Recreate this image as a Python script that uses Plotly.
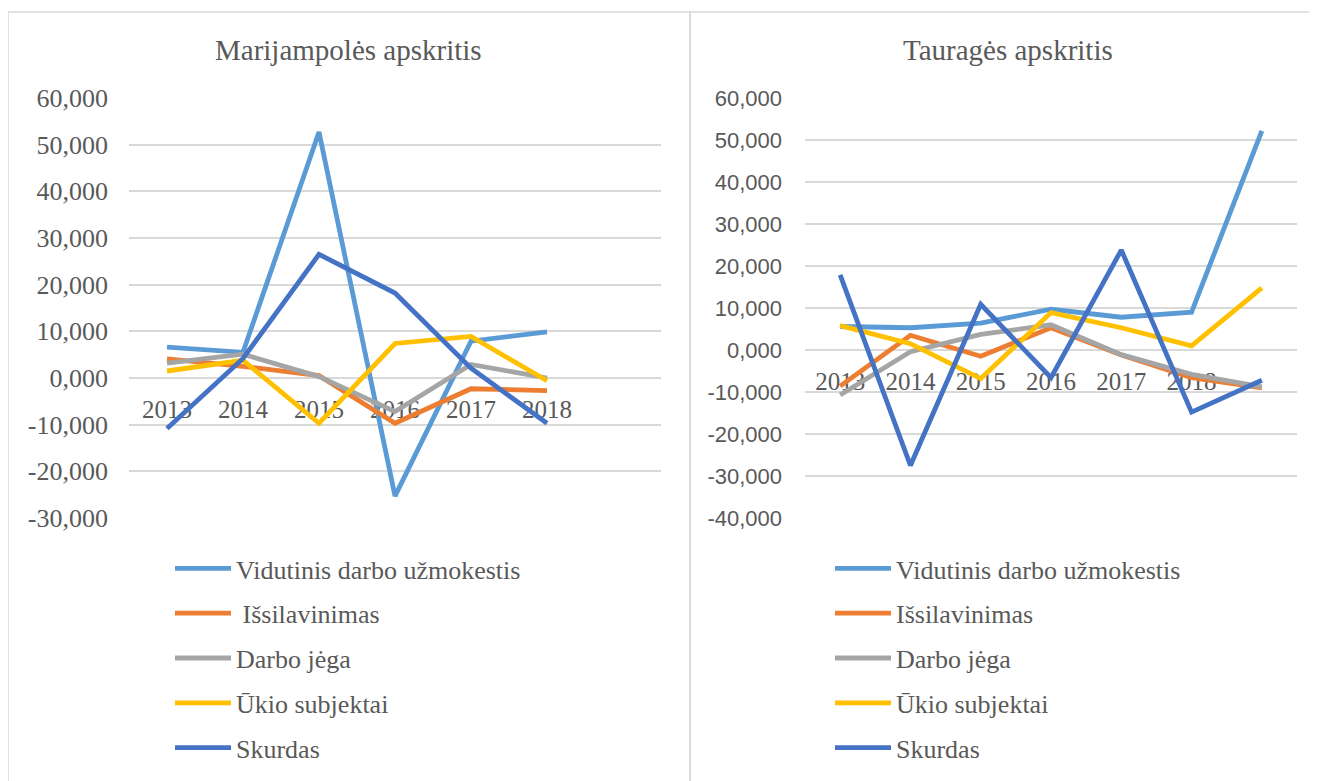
import plotly.graph_objects as go

# ---------------- data ----------------
years = ["2013", "2014", "2015", "2016", "2017", "2018"]
n_categories = 7  # Excel category axis has one extra (unlabelled) slot

series_left = ["Vidutinis darbo užmokestis", " Išsilavinimas", "Darbo jėga", "Ūkio subjektai", "Skurdas"]
series_right = ["Vidutinis darbo užmokestis", "Išsilavinimas", "Darbo jėga", "Ūkio subjektai", "Skurdas"]

# Marijampolės apskritis
mar_vdu = [6.6, 5.5, 52.7, -25.3, 7.9, 9.9]
mar_iss = [4.1, 2.5, 0.5, -9.7, -2.3, -2.7]
mar_dj = [3.2, 5.1, 0.3, -7.2, 2.9, 0.0]
mar_us = [1.5, 3.8, -9.7, 7.4, 8.9, -0.6]
mar_sk = [-10.8, 4.2, 26.5, 18.2, 2.1, -9.7]

# Tauragės apskritis (7 points, last one unlabelled)
tau_vdu = [5.6, 5.3, 6.4, 9.7, 7.8, 9.0, 52.2]
tau_iss = [-8.6, 3.5, -1.5, 5.3, -1.2, -6.6, -9.0]
tau_dj = [-10.7, -0.4, 3.7, 6.0, -1.1, -5.8, -8.8]
tau_us = [5.8, 1.5, -6.8, 8.9, 5.3, 1.0, 14.8]
tau_sk = [17.9, -27.5, 10.9, -6.6, 23.8, -14.8, -7.2]

titles = ["Marijampolės apskritis", "Tauragės apskritis"]
left_ticks = [-30, -20, -10, 0, 10, 20, 30, 40, 50, 60]
right_ticks = [-40, -30, -20, -10, 0, 10, 20, 30, 40, 50, 60]
colors = ["#5B9BD5", "#ED7D31", "#A5A5A5", "#FFC000", "#4472C4"]

# ---------------- layout constants ----------------
W, H = 1317, 781
OFF = 8  # page body margin
SERIF = "Liberation Serif, Times New Roman, serif"
SANS = "Liberation Sans, Arial, sans-serif"
TXT = "#595959"
GRID = "#D9D9D9"


def px_x(p):
    return (p - OFF) / W


def px_y(p):
    return 1 - (p - OFF) / H


def fmt(v):
    # Lithuanian decimal comma, plain hyphen minus as in Excel
    return ("%.3f" % v).replace(".", ",")


left_dom_x = [px_x(129), px_x(661)]
right_dom_x = [px_x(805), px_x(1297)]
dom_y = [px_y(518), px_y(98)]
left_range = [left_ticks[0], left_ticks[-1]]
right_range = [right_ticks[0], right_ticks[-1]]


def zero_pos(rng):
    return dom_y[0] + (0 - rng[0]) / (rng[1] - rng[0]) * (dom_y[1] - dom_y[0])


fig = go.Figure()

left_data = [mar_vdu, mar_iss, mar_dj, mar_us, mar_sk]
right_data = [tau_vdu, tau_iss, tau_dj, tau_us, tau_sk]

for i, (name, vals) in enumerate(zip(series_left, left_data)):
    fig.add_trace(go.Scatter(
        x=list(range(len(vals))), y=vals, mode="lines", name=name,
        line=dict(color=colors[i], width=4.8), xaxis="x", yaxis="y",
        legend="legend", legendgroup="L%d" % i, hoverinfo="skip"))

for i, (name, vals) in enumerate(zip(series_right, right_data)):
    fig.add_trace(go.Scatter(
        x=list(range(len(vals))), y=vals, mode="lines", name=name,
        line=dict(color=colors[i], width=4.8), xaxis="x2", yaxis="y2",
        legend="legend2", legendgroup="R%d" % i, hoverinfo="skip"))

xcommon = dict(range=[-0.5, n_categories - 0.5], tickmode="array",
               tickvals=list(range(len(years))), ticktext=years,
               showgrid=False, zeroline=False, showline=False, ticks="",
               tickfont=dict(family=SERIF, size=25, color=TXT),
               ticklabelstandoff=14, layer="below traces", fixedrange=True,
               automargin=False)

ycommon = dict(domain=dom_y, tickmode="array", showgrid=True, gridcolor=GRID,
               gridwidth=1.5, zeroline=False, fixedrange=True, automargin=False)

legcommon = dict(xanchor="left", yanchor="top", orientation="v",
                 tracegroupgap=8, bgcolor="rgba(0,0,0,0)", itemwidth=56,
                 font=dict(family=SERIF, size=26, color=TXT))

fig.update_layout(
    width=W, height=H, margin=dict(l=0, r=0, t=0, b=0, autoexpand=False),
    paper_bgcolor="white", plot_bgcolor="white",
    xaxis=dict(domain=left_dom_x, anchor="free", position=zero_pos(left_range), **xcommon),
    xaxis2=dict(domain=right_dom_x, anchor="free", position=zero_pos(right_range), **xcommon),
    yaxis=dict(range=left_range, tickvals=left_ticks, ticktext=[fmt(v) for v in left_ticks],
               anchor="x", tickfont=dict(family=SERIF, size=26, color=TXT),
               ticklabelstandoff=20, **ycommon),
    yaxis2=dict(range=right_range, tickvals=right_ticks, ticktext=[fmt(v) for v in right_ticks],
                anchor="x2", tickfont=dict(family=SANS, size=22, color=TXT),
                ticklabelstandoff=22, **ycommon),
    legend=dict(x=px_x(170), y=px_y(545), **legcommon),
    legend2=dict(x=px_x(830), y=px_y(545), **legcommon),
    showlegend=True,
)

# titles
fig.add_annotation(text=titles[0], x=px_x(348), y=px_y(50), xref="paper", yref="paper",
                   xanchor="center", yanchor="middle", showarrow=False,
                   font=dict(family=SERIF, size=29, color=TXT))
fig.add_annotation(text=titles[1], x=px_x(1008), y=px_y(50), xref="paper", yref="paper",
                   xanchor="center", yanchor="middle", showarrow=False,
                   font=dict(family=SERIF, size=29, color=TXT))

# panel borders
fig.add_shape(type="rect", xref="paper", yref="paper",
              x0=px_x(8), x1=px_x(690), y0=px_y(800), y1=px_y(12),
              line=dict(color=GRID, width=1.5), layer="below")
fig.add_shape(type="rect", xref="paper", yref="paper",
              x0=px_x(690), x1=px_x(1340), y0=px_y(800), y1=px_y(12),
              line=dict(color=GRID, width=1.5), layer="below")

fig.write_html("out.html", config={"displayModeBar": False})
